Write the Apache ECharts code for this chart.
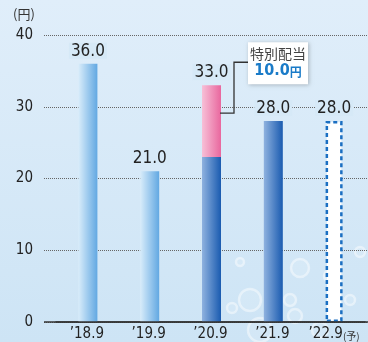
<!DOCTYPE html>
<html><head><meta charset="utf-8">
<script src="https://cdn.jsdelivr.net/npm/echarts@6/dist/echarts.min.js"></script>
<style>html,body{margin:0;padding:0;}#c{width:368px;height:342px;}</style>
</head><body><div id="c"></div>
<script>
const categories = ["’18.9", "’19.9", "’20.9", "’21.9", "’22.9"];
const regularDividend = [36.0, 21.0, 23.0, 28.0, null];
const specialDividend = [null, null, 10.0, null, null];
const forecastDividend = [null, null, null, null, 28.0];
const yTicks = [0, 10, 20, 30, 40];
const unitLabel = "(円)";
const forecastMark = "(予)";
const calloutTitle = "特別配当";
const calloutValue = "10.0";

(function(){
const FONT = '"Liberation Sans Narrow","DejaVu Sans Condensed","Liberation Sans",sans-serif';
const lightGrad = {type:'linear',x:0,y:0,x2:1,y2:0,colorStops:[{offset:0,color:'#d8ecfa'},{offset:1,color:'#62a8e2'}]};
const darkGrad = {type:'linear',x:0,y:0,x2:1,y2:0,colorStops:[{offset:0,color:'#8fb2df'},{offset:1,color:'#1a5bb0'}]};
const pinkGrad = {type:'linear',x:0,y:0,x2:1,y2:0,colorStops:[{offset:0,color:'#f7c0d7'},{offset:1,color:'#e9679e'}]};
const labelBg = '#d6e9f7';

const chart = echarts.init(document.getElementById('c'), null, {renderer:'canvas'});
const labelStyle = {show:true, position:'top', distance:5, fontFamily:FONT, fontSize:17, color:'#222', backgroundColor:labelBg, padding:[0,2,-1,2], formatter:(p)=>p.value.toFixed(1)};

const option = {
  backgroundColor: {type:'linear',x:0,y:0,x2:0,y2:1,colorStops:[{offset:0,color:'#e0eefa'},{offset:1,color:'#cde4f5'}]},
  animation:false,
  grid:[
    {left:44, right:0, top:35, bottom:20},
    {left:56, right:3, top:35, bottom:20}
  ],
  xAxis:[
    {gridIndex:0, type:'value', min:0, max:1, axisLine:{show:false}, axisTick:{show:false}, axisLabel:{show:false}, splitLine:{show:false}},
    {gridIndex:1, type:'category', data:categories, axisLine:{show:true, lineStyle:{color:'#333', width:1.6}}, axisTick:{show:false},
      axisLabel:{interval:0, fontFamily:FONT, fontSize:15, color:'#222', margin:5,
        formatter:(v,i)=> i===4 ? v + '{s|' + forecastMark + '}' : v,
        rich:{s:{fontSize:10, fontFamily:'"Noto Sans CJK JP",sans-serif', color:'#333', padding:[3,0,0,0]}}}}
  ],
  yAxis:[
    {gridIndex:0, type:'value', min:yTicks[0], max:yTicks[yTicks.length-1], interval:10,
      axisLine:{show:false}, axisTick:{show:false},
      axisLabel:{fontFamily:FONT, fontSize:15, color:'#222', margin:11},
      splitLine:{show:true, lineStyle:{color:'#666', type:[1,1], width:1}}},
    {gridIndex:1, type:'value', min:0, max:40, show:false}
  ],
  series:[
    {name:'regular', type:'bar', xAxisIndex:1, yAxisIndex:1, stack:'d', barWidth:19,
      data: regularDividend.map((v,i)=>({value:v, itemStyle:{color: i<2 ? lightGrad : darkGrad},
        label: i===2 ? {show:false} : labelStyle})),
      z:3},
    {name:'special', type:'bar', xAxisIndex:1, yAxisIndex:1, stack:'d', barWidth:19,
      data: specialDividend, itemStyle:{color:pinkGrad},
      label: Object.assign({}, labelStyle, {formatter:(p)=> (regularDividend[p.dataIndex] + p.value).toFixed(1)}), z:3},
    {name:'forecast', type:'bar', xAxisIndex:1, yAxisIndex:1, barWidth:17, barGap:'-100%',
      data: forecastDividend, itemStyle:{color:'#ffffff', borderColor:'#1b6fc2', borderWidth:2.5, borderType:[4,3]},
      label: labelStyle, z:3}
  ]
};
chart.setOption(option);

const axisY = chart.getHeight() - 20;
const idx = 2;
const pTop = chart.convertToPixel({xAxisIndex:1, yAxisIndex:1}, [idx, regularDividend[idx] + specialDividend[idx]]);
const pBot = chart.convertToPixel({xAxisIndex:1, yAxisIndex:1}, [idx, regularDividend[idx]]);
const bx = pTop[0] + 9.5;
const by = (pTop[1] + pBot[1]) / 2 - 8;
const boxL = bx + 28, boxT = pTop[1] - 43;
const bubbles = [[300,268,9],[330,276,6],[250,300,11],[290,300,6],[295,316,7],[232,308,5],[350,300,5],[260,330,12],[320,330,8],[360,252,5],[240,262,4]];
const graphics = bubbles.map(b=>({type:'circle', shape:{cx:b[0], cy:b[1], r:b[2]}, style:{fill:'rgba(255,255,255,0.12)', stroke:'rgba(255,255,255,0.45)', lineWidth:2.5}, z:-10, silent:true}));
graphics.push({type:'rect', shape:{x:44, y:axisY-0.8, width:324, height:1.6}, style:{fill:'#333'}, z:30});
graphics.push({type:'polyline', shape:{points:[[bx,by],[bx+14,by],[bx+14,boxT+20],[boxL,boxT+20]]}, style:{stroke:'#333', lineWidth:1.3, fill:null}, z:20});
graphics.push({type:'rect', shape:{x:boxL, y:boxT, width:60, height:42}, style:{fill:'#ffffff', shadowBlur:4, shadowColor:'rgba(0,0,0,0.25)', shadowOffsetX:1, shadowOffsetY:1}, z:20});
graphics.push({type:'text', x:boxL+30, y:boxT+4, style:{text:calloutTitle, font:'14px "Noto Sans CJK JP",sans-serif', fill:'#444', textAlign:'center'}, z:21});
graphics.push({type:'text', x:boxL+30, y:boxT+21, style:{text:'{v|'+calloutValue+'}{u|円}', textAlign:'center',
  rich:{v:{fontFamily:FONT, fontSize:16, fontWeight:'bold', fill:'#1a7bc8'}, u:{fontFamily:'"Noto Sans CJK JP",sans-serif', fontSize:12, fontWeight:'bold', fill:'#1a7bc8', padding:[2,0,0,0]}}}, z:21});
graphics.push({type:'text', x:13, y:8, style:{text:unitLabel, font:'13px "Noto Sans CJK JP",sans-serif', fill:'#333'}, z:21});
chart.setOption({graphic:graphics});
})();
</script></body></html>
